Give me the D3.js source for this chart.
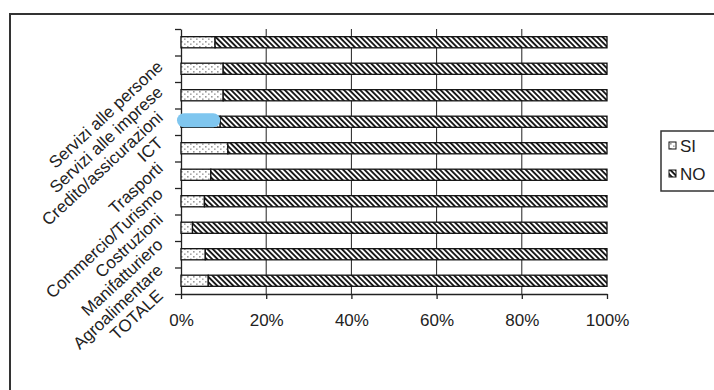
<!DOCTYPE html>
<html>
<head>
<meta charset="utf-8">
<script src="https://cdn.jsdelivr.net/npm/d3@7"></script>
<style>
  body { margin: 0; background: #fff; }
  text { font-family: "Liberation Sans", Arial, sans-serif; fill: #222; }
</style>
</head>
<body>
<div id="chart"></div>
<script>
// categories top to bottom, values in %
const categories = ["Servizi alle persone", "Servizi alle imprese", "Credito/assicurazioni", "ICT",
    "Trasporti", "Commercio/Turismo", "Costruzioni", "Manifatturiero", "Agroalimentare", "TOTALE"];
const siValues = [8.0, 9.9, 9.9, 9.2, 11.0, 7.0, 5.5, 2.7, 5.7, 6.4];
const noValues = [92.0, 90.1, 90.1, 90.8, 89.0, 93.0, 94.5, 97.3, 94.3, 93.6];
const seriesNames = ["SI", "NO"];
const xTicks = [0, 20, 40, 60, 80, 100];
const gridTicks = [20, 40, 60, 80];
const highlighted = "ICT";

const W = 714, H = 390;
const plot = {left: 181, right: 607, top: 29, bottom: 294};

const svg = d3.select("#chart").append("svg")
    .attr("width", W)
    .attr("height", H);

svg.append("rect").attr("width", W).attr("height", H).attr("fill", "#fff");

// patterns
const defs = svg.append("defs");
const pSi = defs.append("pattern")
    .attr("id", "pat-si")
    .attr("patternUnits", "userSpaceOnUse")
    .attr("width", 6).attr("height", 5);
pSi.append("rect").attr("width", 6).attr("height", 5).attr("fill", "#fff");
pSi.append("rect").attr("x", 1).attr("y", 1).attr("width", 1.6).attr("height", 1.6).attr("fill", "#999");
pSi.append("rect").attr("x", 4).attr("y", 3.4).attr("width", 1.6).attr("height", 1.6).attr("fill", "#aaa");

const pNo = defs.append("pattern")
    .attr("id", "pat-no")
    .attr("patternUnits", "userSpaceOnUse")
    .attr("width", 3.8).attr("height", 6)
    .attr("patternTransform", "rotate(-45)");
pNo.append("rect").attr("width", 3.8).attr("height", 6).attr("fill", "#fff");
pNo.append("rect").attr("width", 1.9).attr("height", 6).attr("fill", "#1a1a1a");

const fills = {SI: "url(#pat-si)", NO: "url(#pat-no)"};

// outer frame
svg.append("rect")
    .attr("x", 10).attr("y", 14)
    .attr("width", 720).attr("height", 400)
    .attr("fill", "none")
    .attr("stroke", "#333")
    .attr("stroke-width", 2);

const table = categories.map((c, i) => ({cat: c, SI: siValues[i], NO: noValues[i]}));
const stacked = d3.stack().keys(seriesNames)(table);

const x = d3.scaleLinear()
    .domain([0, 100])
    .range([plot.left, plot.right]);

const y = d3.scaleBand()
    .domain(categories)
    .range([plot.top, plot.bottom])
    .paddingInner(0.58)
    .paddingOuter(0.29);

// gridlines
svg.append("g")
    .selectAll("line")
    .data(gridTicks)
    .enter()
    .append("line")
    .attr("x1", d => x(d)).attr("x2", d => x(d))
    .attr("y1", plot.top).attr("y2", plot.bottom)
    .attr("stroke", "#222")
    .attr("stroke-width", 1);

// Y axis: ticks between categories
const yIdx = d3.scaleLinear().domain([0, categories.length]).range([plot.top, plot.bottom]);
const yAxis = svg.append("g")
    .attr("transform", `translate(${plot.left},0)`)
    .call(d3.axisLeft(yIdx).tickValues(d3.range(categories.length + 1)).tickFormat("").tickSize(6).tickSizeOuter(0));
yAxis.selectAll("line, path").attr("stroke", "#222").attr("stroke-width", 1.3);

// X axis
const xAxis = svg.append("g")
    .attr("transform", `translate(0,${plot.bottom})`)
    .call(d3.axisBottom(x).tickValues(xTicks).tickFormat(d => d + "%").tickSize(5).tickSizeOuter(0).tickPadding(15));
xAxis.selectAll("line, path").attr("stroke", "#222").attr("stroke-width", 1.3);
xAxis.selectAll("text")
    .style("font-family", "'Liberation Sans', Arial, sans-serif")
    .style("font-size", "17px")
    .attr("fill", "#222");

// bars
svg.append("g")
    .selectAll("g")
    .data(stacked)
    .enter()
    .append("g")
    .attr("fill", d => fills[d.key])
    .selectAll("rect")
    .data(d => d)
    .enter()
    .append("rect")
    .attr("x", d => x(d[0]))
    .attr("y", d => y(d.data.cat))
    .attr("width", d => x(d[1]) - x(d[0]))
    .attr("height", y.bandwidth())
    .attr("stroke", "#111")
    .attr("stroke-width", 1.3);

// highlight blob on the SI part
const hi = table.find(d => d.cat === highlighted);
svg.append("rect")
    .attr("x", x(0) - 4)
    .attr("y", y(hi.cat) - 3)
    .attr("width", x(hi.SI) - x(0) + 4)
    .attr("height", y.bandwidth() + 3)
    .attr("rx", 7)
    .attr("fill", "#7fc6ef");

// rotated category labels
const labelY = d3.scalePoint().domain(categories).range([68, 297]);
svg.append("g")
    .selectAll("text")
    .data(categories)
    .enter()
    .append("text")
    .attr("transform", d => `translate(164,${labelY(d)}) rotate(-43)`)
    .attr("text-anchor", "end")
    .style("font-size", "17px")
    .text(d => d);

// legend
const legend = svg.append("g").attr("transform", "translate(661,131)");
legend.append("rect")
    .attr("width", 70).attr("height", 60)
    .attr("fill", "#fff")
    .attr("stroke", "#333")
    .attr("stroke-width", 1.5);
const item = legend.selectAll(".item")
    .data(seriesNames)
    .enter()
    .append("g")
    .attr("transform", (d, i) => `translate(8,${11 + i * 28})`);
item.append("rect")
    .attr("width", 7).attr("height", 7)
    .attr("fill", d => fills[d])
    .attr("stroke", "#111");
item.append("text")
    .attr("x", 11).attr("y", 4).attr("dy", "0.35em")
    .style("font-size", "17px")
    .text(d => d);
</script>
</body>
</html>
